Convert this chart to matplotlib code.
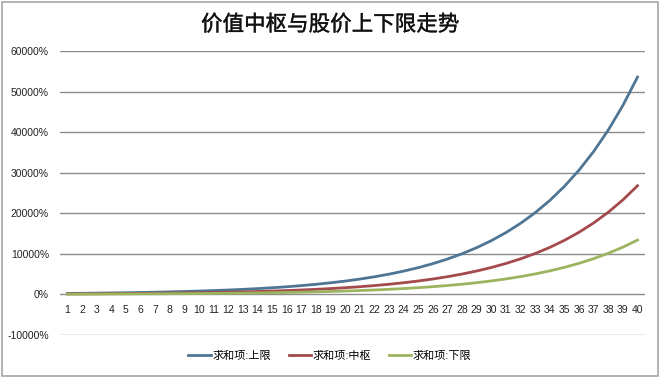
import matplotlib
matplotlib.use("Agg")
import matplotlib.pyplot as plt
import matplotlib.patheffects as pe
from matplotlib.patches import Rectangle
from matplotlib.ticker import FuncFormatter

plt.rcParams['font.family'] = ['Liberation Sans', 'Noto Sans CJK SC']

# data (values in %)
periods = list(range(1, 41))
upper = [230, 265, 304, 350, 402, 463, 532, 612, 704, 809,
         930, 1070, 1231, 1415, 1627, 1872, 2152, 2475, 2846, 3273,
         3764, 4329, 4978, 5725, 6584, 7571, 8707, 10013, 11515, 13242,
         15229, 17513, 20140, 23161, 26635, 30630, 35225, 40509, 46585, 53573]
middle = [115, 132, 152, 175, 201, 231, 266, 306, 352, 405,
          465, 535, 615, 708, 814, 936, 1076, 1238, 1423, 1637,
          1882, 2164, 2489, 2863, 3292, 3786, 4354, 5007, 5758, 6621,
          7614, 8757, 10070, 11580, 13318, 15315, 17612, 20254, 23292, 26786]
lower = [58, 66, 76, 87, 101, 116, 133, 153, 176, 202,
         233, 268, 308, 354, 407, 468, 538, 619, 712, 818,
         941, 1082, 1245, 1431, 1646, 1893, 2177, 2503, 2879, 3311,
         3807, 4378, 5035, 5790, 6659, 7658, 8806, 10127, 11646, 13393]
series_names = ['求和项:上限', '求和项:中枢', '求和项:下限']
title = '价值中枢与股价上下限走势'

fig = plt.figure(figsize=(6.6, 3.78), dpi=100)
fig.patches.append(Rectangle((0.003, 0.005), 0.994, 0.99, transform=fig.transFigure,
                             fill=False, edgecolor='#a6a6a6', linewidth=1.2))
ax = fig.add_axes([0.091, 0.114, 0.886, 0.751])

colors = ['#4f7594', '#a44a4d', '#9cb45e']
for vals, name, c in zip([upper, middle, lower], series_names, colors):
    ax.plot(periods, vals, color=c, linewidth=2, label=name)

ax.set_ylim(-10000, 60000)
ax.set_xlim(0.5, 40.5)
ax.set_yticks(range(-10000, 60001, 10000))
ax.yaxis.set_major_formatter(FuncFormatter(lambda v, p: '{:d}%'.format(int(v))))
ax.set_xticks(periods)
ax.set_xticklabels([str(p) for p in periods])
ax.grid(axis='y', color='#8c8c8c', linewidth=1)
ax.set_axisbelow(True)
for s in ['top', 'right', 'left']:
    ax.spines[s].set_visible(False)
ax.spines['bottom'].set_position(('data', 0))
ax.spines['bottom'].set_visible(False)
ax.tick_params(axis='both', length=0, labelsize=7.5, colors='#222222')
ax.tick_params(axis='x', pad=8)
ax.tick_params(axis='y', pad=8)

# regular weight with a thin stroke, the original is between regular and bold
fig.text(0.5, 0.933, title, ha='center', va='center', fontsize=15.5, color='#111111',
         path_effects=[pe.withStroke(linewidth=0.25, foreground='#111111')])
fig.legend(loc='center', bbox_to_anchor=(0.5, 0.058), ncol=3, frameon=False,
           fontsize=8, handlelength=2.0, columnspacing=1.6, handletextpad=0.15)

fig.savefig('out.png', dpi=100)
